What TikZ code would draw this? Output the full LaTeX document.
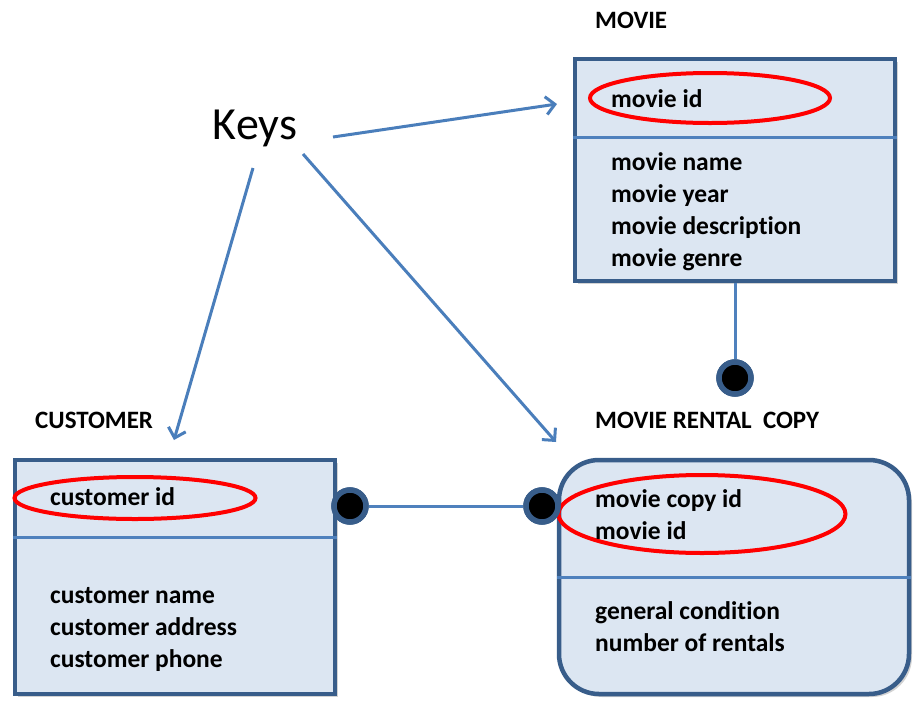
\documentclass[tikz,border=0pt]{standalone}
\usepackage{fontspec}
\setmainfont{Carlito}[Ligatures=NoCommon]
\usetikzlibrary{arrows.meta,shapes.geometric,shadows}
\definecolor{boxedge}{HTML}{385D8A}
\definecolor{boxfill}{HTML}{DCE6F2}
\definecolor{divline}{HTML}{4F81BD}
\definecolor{arrowblue}{HTML}{4A7EBB}
\definecolor{keyred}{HTML}{FF0000}
\tikzset{
  entity/.style={draw=boxedge, fill=boxfill, line width=4.5pt, inner sep=0pt,
    drop shadow={opacity=0.35, shadow xshift=3pt, shadow yshift=-3pt}},
  divider/.style={draw=divline, line width=3pt},
  keyoval/.style={ellipse, draw=keyred, line width=4pt, inner sep=0pt},
  attr/.style={anchor=base west, inner sep=0pt,
    font=\bfseries\fontsize{25.5}{32}\selectfont},
  title/.style={anchor=base west, inner sep=0pt, font=\bfseries\fontsize{25}{28}\selectfont},
  dot/.style={circle, fill=black, draw=boxedge, line width=5.5pt, minimum size=32pt, inner sep=0pt},
  conn/.style={draw=divline, line width=3pt},
  keyarrow/.style={draw=arrowblue, line width=3pt, -{Straight Barb[length=9pt,width=18pt,line width=3pt]}}
}
\begin{document}
\begin{tikzpicture}[x=1pt,y=-1pt]
\useasboundingbox (0,0) rectangle (914,702);
% boxes
\node[entity, minimum width=320pt, minimum height=222pt] (movie) at (735,170) {};
\node[entity, minimum width=320pt, minimum height=234pt] (cust) at (175,577) {};
\node[entity, rounded corners=40pt, minimum width=350pt, minimum height=234pt] (rental) at (734,577) {};
% dividers
\draw[divider] (movie.west |- 0,137) -- (movie.east |- 0,137);
\draw[divider] (cust.west |- 0,537) -- (cust.east |- 0,537);
\draw[divider] (rental.west |- 0,577) -- (rental.east |- 0,577);
% titles
\node[title] (tmovie) at (595,28) {MOVIE};
\node[title] (tcust) at (35,428) {CUSTOMER};
\node[title] (trental) at (595,428) {MOVIE RENTAL\ \ COPY};
% key ovals
\node[keyoval, minimum width=240pt, minimum height=50pt] (omovie) at (710,98) {};
\node[keyoval, minimum width=241pt, minimum height=42pt] (ocust) at (135,498) {};
\node[keyoval, minimum width=287pt, minimum height=78pt] (orental) at (702,514) {};
% attributes
\node[attr] (a1) at (611,107) {movie id};
\node[attr] (a2) at (611,170) {movie name};
\node[attr] (a3) at (611,202) {movie year};
\node[attr] (a4) at (611,234) {movie description};
\node[attr] (a5) at (611,266) {movie genre};
\node[attr] (c1) at (50,505) {customer id};
\node[attr] (c2) at (50,603) {customer name};
\node[attr] (c3) at (50,635) {customer address};
\node[attr] (c4) at (50,667) {customer phone};
\node[attr] (r1) at (595,507) {movie copy id};
\node[attr] (r2) at (595,539) {movie id};
\node[attr] (r3) at (595,619) {general condition};
\node[attr] (r4) at (595,651) {number of rentals};
% connectors
\node[dot] (dmovie) at (735,378) {};
\node[dot] (dcust) at (350,506) {};
\node[dot] (drental) at (542,506) {};
\draw[conn] (735,283) -- (dmovie.north);
\draw[conn] (dcust.east) -- (drental.west);
\node[dot] at (dmovie) {};
\node[dot] at (dcust) {};
\node[dot] at (drental) {};
% keys
\node[font=\fontsize{46}{50}\selectfont, inner sep=0pt] (keys) at (255,128) {Keys};
\coordinate (ks1) at (333,137);
\coordinate (ke1) at (557,104);
\coordinate (ks2) at (253,168);
\coordinate (ke2) at (174,440);
\coordinate (ks3) at (303,154);
\coordinate (ke3) at (556,442);
\draw[keyarrow] (ks1) -- (ke1);
\draw[keyarrow] (ks2) -- (ke2);
\draw[keyarrow] (ks3) -- (ke3);
\end{tikzpicture}
\end{document}
